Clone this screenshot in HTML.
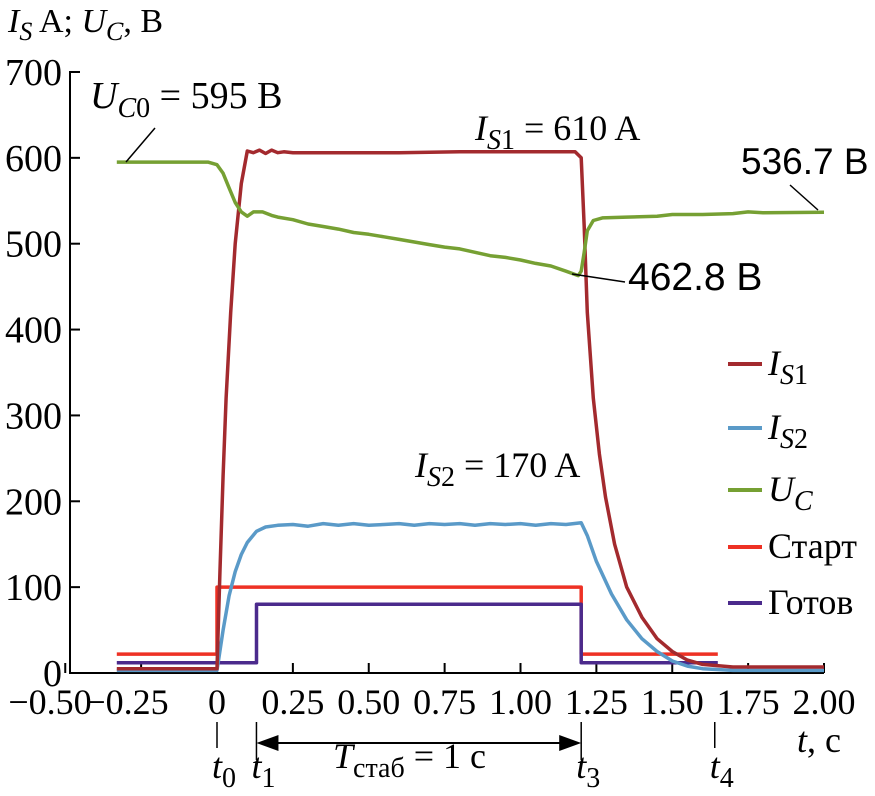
<!DOCTYPE html>
<html><head><meta charset="utf-8"><style>
html,body{margin:0;padding:0;background:#fff}
svg{display:block}
text{font-family:"Liberation Serif",serif;fill:#000}
.s{font-family:"Liberation Sans","DejaVu Sans",sans-serif}
</style></head><body>
<svg id="ch" width="875" height="796" viewBox="0 0 875 796"></svg>
<script>
const tS1=[-0.33,0,0.01,0.02,0.03,0.045,0.06,0.08,0.1,0.12,0.14,0.16,0.18,0.2,0.22,0.25,0.3,0.4,0.5,0.6,0.8,1.0,1.18,1.2,1.21,1.22,1.24,1.26,1.28,1.31,1.35,1.4,1.45,1.5,1.55,1.6,1.7,1.8,2.0];
const vS1=[5,5,120,230,320,420,500,570,608,606,609,605,609,606,607,606,606,606,606,606,607,607,607,600,520,420,320,255,205,150,100,65,40,25,15,10,7,7,7];
const tS2=[-0.33,0,0.02,0.04,0.06,0.08,0.1,0.13,0.16,0.2,0.25,0.3,0.35,0.4,0.45,0.5,0.55,0.6,0.65,0.7,0.75,0.8,0.85,0.9,0.95,1.0,1.05,1.1,1.15,1.2,1.22,1.25,1.3,1.35,1.4,1.45,1.5,1.55,1.6,1.7,2.0];
const vS2=[3,3,50,90,118,138,152,165,170,172,173,171,174,172,174,172,173,174,172,174,173,174,172,174,173,174,172,174,173,175,160,130,92,62,40,25,14,8,5,3,3];
const tU=[-0.33,-0.03,0,0.02,0.04,0.06,0.08,0.1,0.12,0.15,0.18,0.2,0.25,0.3,0.35,0.4,0.45,0.5,0.55,0.6,0.65,0.7,0.75,0.8,0.85,0.9,0.95,1.0,1.05,1.1,1.15,1.19,1.2,1.21,1.22,1.24,1.27,1.35,1.45,1.5,1.6,1.7,1.75,1.8,2.0];
const vU=[595,595,592,582,565,548,537,532,537,537,533,531,528,523,520,517,513,511,508,505,502,499,496,494,490,486,484,481,477,474,468,462.8,468,490,515,527,530,531,532,534,534,535,537,536,536.7];
const tSt=[-0.33,0,0,1.2,1.2,1.65];
const vSt=[22,22,100,100,22,22];
const tRd=[-0.33,0.13,0.13,1.2,1.2,1.65];
const vRd=[12,12,80,80,12,12];
const xTicks=[-0.5,-0.25,0,0.25,0.5,0.75,1.0,1.25,1.5,1.75,2.0];
const xLabels=["−0.50","−0.25","0","0.25","0.50","0.75","1.00","1.25","1.50","1.75","2.00"];
const yTicks=[0,100,200,300,400,500,600,700];

const X=t=>217+t*303.5;
const Y=v=>673-v*0.8586;
const svg=document.getElementById('ch');
const NS='http://www.w3.org/2000/svg';
function mk(tag,at,par){const e=document.createElementNS(NS,tag);for(const k in at)e.setAttribute(k,at[k]);(par||svg).appendChild(e);return e;}
function txt(x,y,s,size,anchor,cls){const e=mk('text',{x:x,y:y,'font-size':size,'text-anchor':anchor||'start'});if(cls)e.setAttribute('class',cls);e.innerHTML=s;return e;}

let a=mk('path',{d:`M80 ${Y(700)} H70 V673 H824`,stroke:'#000','stroke-width':2,fill:'none'});


yTicks.forEach(v=>{
 let t=mk('line',{x1:70,x2:80,y1:Y(v),y2:Y(v),stroke:'#000','stroke-width':2});
 
 
 let l=txt(62,Y(v)+13,String(v),38,'end');
 
 
});
xTicks.forEach((v,i)=>{
 let t=mk('line',{x1:X(v),x2:X(v),y1:673,y2:663,stroke:'#000','stroke-width':2});
 
 
 let xx=X(v); if(v===-0.5)xx=50; if(v===-0.25)xx=127;
 let l=txt(xx,714,xLabels[i],36,'middle');
 
 
});

function series(ts,vs,col,name,w){
 let d=ts.map((t,i)=>(i?'L':'M')+X(t).toFixed(1)+' '+Y(vs[i]).toFixed(1)).join(' ');
 let p=mk('path',{d:d,stroke:col,'stroke-width':w||3.5,fill:'none','stroke-linejoin':'round'});
 
 
}
series(tSt,vSt,'#ee3124','series-start');
series(tRd,vRd,'#4b2a8c','series-ready');
series(tS2,vS2,'#5a9ac8','series-is2');
series(tS1,vS1,'#a32a2e','series-is1');
series(tU,vU,'#76a033','series-uc');

mk('line',{x1:126,y1:162,x2:155,y2:128,stroke:'#000','stroke-width':1.5});
mk('line',{x1:572,y1:274,x2:625,y2:282,stroke:'#000','stroke-width':1.5});
mk('line',{x1:790,y1:185,x2:818,y2:210,stroke:'#000','stroke-width':1.5});
txt(90,108,'<tspan font-style="italic">U</tspan><tspan font-style="italic" font-size="28" dy="9">C</tspan><tspan font-size="28">0</tspan><tspan dy="-9"> = 595 B</tspan>',38);
txt(475,140,'<tspan font-style="italic">I</tspan><tspan font-style="italic" font-size="28" dy="9">S</tspan><tspan font-size="28">1</tspan><tspan dy="-9"> = 610 A</tspan>',36);
txt(415,477,'<tspan font-style="italic">I</tspan><tspan font-style="italic" font-size="28" dy="9">S</tspan><tspan font-size="28">2</tspan><tspan dy="-9"> = 170 A</tspan>',36);
txt(741,174,'536.7 B',37,'start','s');
txt(628,290,'462.8 B',39,'start','s');
txt(8,32,'<tspan font-style="italic">I</tspan><tspan font-style="italic" font-size="26" dy="8">S</tspan><tspan dy="-8"> A;  </tspan><tspan font-style="italic">U</tspan><tspan font-style="italic" font-size="26" dy="8">C</tspan><tspan dy="-8">, B</tspan>',34);

const legCols=['#a32a2e','#5a9ac8','#76a033','#ee3124','#4b2a8c'];
const legLab=['<tspan font-style="italic">I</tspan><tspan font-style="italic" font-size="28" dy="9">S</tspan><tspan font-size="28">1</tspan>',
'<tspan font-style="italic">I</tspan><tspan font-style="italic" font-size="28" dy="9">S</tspan><tspan font-size="28">2</tspan>',
'<tspan font-style="italic">U</tspan><tspan font-style="italic" font-size="28" dy="9">C</tspan>','Старт','Готов'];
const legY=[364,428,490,547,603];
legCols.forEach((c,i)=>{
 let l=mk('line',{x1:728,x2:762,y1:legY[i],y2:legY[i],stroke:c,'stroke-width':4});
 
 
 let t=txt(768,legY[i]+11,legLab[i],36);
 
 
});

[[0,'0',722,748],[0.13,'1',722,760],[1.2,'3',722,760],[1.64,'4',722,748]].forEach(m=>{
 let x=X(m[0]);
 mk('line',{x1:x,x2:x,y1:m[2],y2:m[3],stroke:'#000','stroke-width':1.5});
 txt(x-5,778,'<tspan font-style="italic">t</tspan><tspan font-size="28" dy="9">'+m[1]+'</tspan>',36,'start');
});
mk('line',{x1:X(0.13)+20,x2:X(1.2)-20,y1:743,y2:743,stroke:'#000','stroke-width':2});
mk('path',{d:`M${X(0.13)} 743 l22 -8 v16 z M${X(1.2)} 743 l-22 -8 v16 z`,fill:'#000'});
txt(333,768,'<tspan font-style="italic">T</tspan><tspan font-size="28" dy="9">стаб</tspan><tspan dy="-9"> = 1 c</tspan>',36);
txt(797,752,'<tspan font-style="italic">t</tspan>, c',36);
</script>
</body></html>
